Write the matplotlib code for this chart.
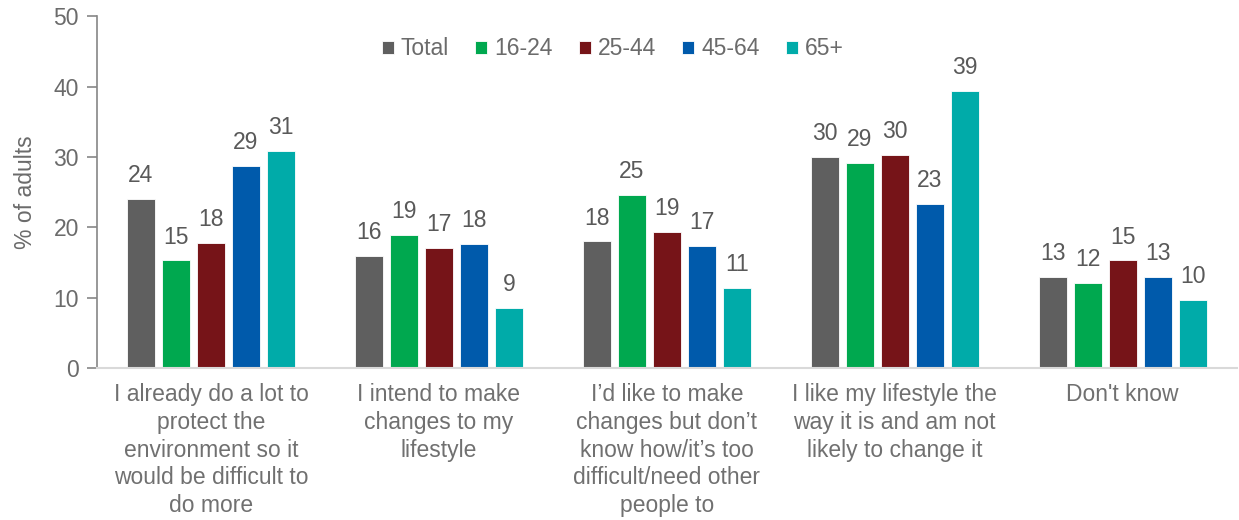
import numpy as np
import matplotlib
matplotlib.use("Agg")
import matplotlib.pyplot as plt

plt.rcParams['font.family'] = ['Liberation Sans', 'DejaVu Sans']

categories = [
    "I already do a lot to\nprotect the\nenvironment so it\nwould be difficult to\ndo more",
    "I intend to make\nchanges to my\nlifestyle",
    "I\u2019d like to make\nchanges but don\u2019t\nknow how/it\u2019s too\ndifficult/need other\npeople to",
    "I like my lifestyle the\nway it is and am not\nlikely to change it",
    "Don't know",
]
groups = ["Total", "16-24", "25-44", "45-64", "65+"]
colors = ["#5f5f5f", "#00a84f", "#761418", "#005aab", "#00aba9"]

total = [24.0, 16.0, 18.0, 30.0, 13.0]
age_16_24 = [15.3, 18.9, 24.6, 29.1, 12.1]
age_25_44 = [17.8, 17.1, 19.4, 30.3, 15.3]
age_45_64 = [28.7, 17.6, 17.4, 23.3, 13.0]
age_65_plus = [30.8, 8.6, 11.4, 39.4, 9.7]
series = [total, age_16_24, age_25_44, age_45_64, age_65_plus]

fs = 16.5

fig = plt.figure(figsize=(12.39, 5.2), dpi=100)
ax = fig.add_axes([0.0783, 0.292, 0.9197, 0.677])

x = np.arange(len(categories))
step = 0.1535
width = 0.123
for i, (vals, name, col) in enumerate(zip(series, groups, colors)):
    pos = x + (i - 2) * step
    bars = ax.bar(pos, vals, width=width, color=col, label=name,
                  edgecolor="white", linewidth=0.6)
    for b, v in zip(bars, vals):
        ax.annotate(f"{v:.0f}", (b.get_x() + b.get_width() / 2, v),
                    xytext=(0, 8.5), textcoords="offset points",
                    ha="center", va="bottom", fontsize=fs, color="#595959")

ax.set_xlim(-0.5, len(categories) - 0.5)
ax.set_ylim(0, 50)
ax.set_yticks(range(0, 51, 10))
ax.set_xticks(x)
ax.set_xticklabels(categories, fontsize=fs, color="#707070", linespacing=1.26,
                   va="top")
ax.tick_params(axis="x", length=0, pad=11)
ax.tick_params(axis="y", labelsize=fs, labelcolor="#6b6b6b", color="#868686",
               length=7, width=1.2, pad=6)
ax.set_ylabel("% of adults", fontsize=fs, color="#6b6b6b", labelpad=12)

for s in ["top", "right"]:
    ax.spines[s].set_visible(False)
ax.spines["left"].set_color("#868686")
ax.spines["left"].set_linewidth(1.2)
ax.spines["bottom"].set_color("#d9d9d9")
ax.spines["bottom"].set_linewidth(1.5)

ax.legend(loc="upper center", bbox_to_anchor=(0.4526, 0.985), ncol=5,
          frameon=False, fontsize=fs, labelcolor="#6b6b6b",
          handlelength=0.52, handleheight=0.52, handletextpad=0.3,
          columnspacing=1.15, borderaxespad=0.3)

fig.savefig("out.png", dpi=100)
